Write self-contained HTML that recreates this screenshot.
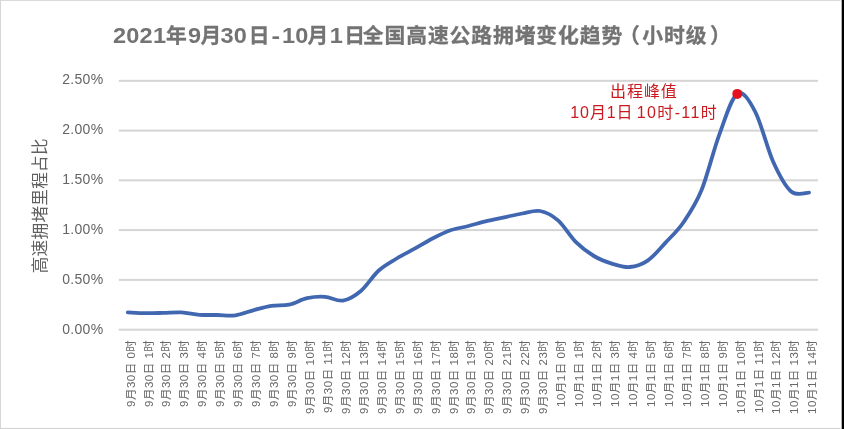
<!DOCTYPE html>
<html lang="zh-CN">
<head>
<meta charset="utf-8">
<title>2021年9月30日-10月1日全国高速公路拥堵变化趋势（小时级）</title>
<style>
html,body{margin:0;padding:0;background:#fff;}
body{width:844px;height:429px;overflow:hidden;position:relative;font-family:"Liberation Sans", "Noto Sans CJK SC", sans-serif;}
svg{display:block;position:absolute;left:0;top:0;}
text{font-family:"Liberation Sans", "Noto Sans CJK SC", sans-serif;}
.ax{fill:#646464;font-size:14px;letter-spacing:0.3px;}
.cat{fill:#686868;font-size:11.5px;letter-spacing:0.5px;}
.title{fill:#737373;font-size:21.6px;font-weight:bold;}
.td{letter-spacing:0.25px;}
.tc{font-size:20.8px;letter-spacing:0.9px;stroke:#737373;stroke-width:0.3px;}
.ytitle{fill:#606060;font-size:16.6px;letter-spacing:0.3px;}
.ann{fill:#ca1a20;font-size:16px;}
</style>
</head>
<body>
<svg width="844" height="429" viewBox="0 0 844 429">
<rect x="0" y="0" width="844" height="429" fill="#ffffff"/>
<rect x="0" y="0" width="840.5" height="1" fill="#dadada"/>
<rect x="0" y="0" width="1" height="429" fill="#d6d6d6"/>
<rect x="0" y="427.9" width="840.5" height="1.1" fill="#d4d4d4"/>
<rect x="841.7" y="0" width="2.3" height="429" fill="#000000"/>
<rect x="118.8" y="79.85" width="699.2" height="2" fill="#d5d5d5"/>
<rect x="118.8" y="129.60" width="699.2" height="2" fill="#d5d5d5"/>
<rect x="118.8" y="179.30" width="699.2" height="2" fill="#d5d5d5"/>
<rect x="118.8" y="229.10" width="699.2" height="2" fill="#d5d5d5"/>
<rect x="118.8" y="278.90" width="699.2" height="2" fill="#d5d5d5"/>
<rect x="118.8" y="328.70" width="699.2" height="2" fill="#d5d5d5"/>
<text class="ax" x="103.4" y="83.6" text-anchor="end">2.50%</text>
<text class="ax" x="103.4" y="133.6" text-anchor="end">2.00%</text>
<text class="ax" x="103.4" y="183.5" text-anchor="end">1.50%</text>
<text class="ax" x="103.4" y="233.5" text-anchor="end">1.00%</text>
<text class="ax" x="103.4" y="283.5" text-anchor="end">0.50%</text>
<text class="ax" x="103.4" y="333.5" text-anchor="end">0.00%</text>
<text class="title" y="42.7"><tspan class="td" y="42.7" x="112.9" textLength="53.46" lengthAdjust="spacingAndGlyphs">2021</tspan><tspan class="tc" x="166.0" y="42.9">年</tspan><tspan class="td" y="42.7" x="187.9" textLength="13.37" lengthAdjust="spacingAndGlyphs">9</tspan><tspan class="tc" x="200.5" y="42.9">月</tspan><tspan class="td" y="42.7" x="220.4" textLength="26.73" lengthAdjust="spacingAndGlyphs">30</tspan><tspan class="tc" x="248.7" y="42.9">日</tspan><tspan class="td" y="42.7" x="271.4" textLength="8.93" lengthAdjust="spacingAndGlyphs">-</tspan><tspan class="td" y="42.7" x="282.0" textLength="26.73" lengthAdjust="spacingAndGlyphs">10</tspan><tspan class="tc" x="307.4" y="42.9">月</tspan><tspan class="td" y="42.7" x="329.7" textLength="13.37" lengthAdjust="spacingAndGlyphs">1</tspan><tspan class="tc" x="344.2" y="42.9">日</tspan><tspan class="tc" x="362.8" y="42.9">全国高速公路拥堵变化趋势</tspan><tspan class="tc" x="619.0" y="42.9">（</tspan><tspan class="tc" x="642.3" y="42.9">小时级</tspan><tspan class="tc" x="710.0" y="42.9">）</tspan></text>
<text class="ytitle" transform="translate(46.4 205.7) rotate(-90)" text-anchor="middle">高速拥堵里程占比</text>
<text class="cat" transform="translate(134.60 339.7) rotate(-90)" text-anchor="end">9月30日 0时</text>
<text class="cat" transform="translate(152.54 339.7) rotate(-90)" text-anchor="end">9月30日 1时</text>
<text class="cat" transform="translate(170.48 339.7) rotate(-90)" text-anchor="end">9月30日 2时</text>
<text class="cat" transform="translate(188.42 339.7) rotate(-90)" text-anchor="end">9月30日 3时</text>
<text class="cat" transform="translate(206.36 339.7) rotate(-90)" text-anchor="end">9月30日 4时</text>
<text class="cat" transform="translate(224.30 339.7) rotate(-90)" text-anchor="end">9月30日 5时</text>
<text class="cat" transform="translate(242.24 339.7) rotate(-90)" text-anchor="end">9月30日 6时</text>
<text class="cat" transform="translate(260.18 339.7) rotate(-90)" text-anchor="end">9月30日 7时</text>
<text class="cat" transform="translate(278.12 339.7) rotate(-90)" text-anchor="end">9月30日 8时</text>
<text class="cat" transform="translate(296.06 339.7) rotate(-90)" text-anchor="end">9月30日 9时</text>
<text class="cat" transform="translate(314.00 339.7) rotate(-90)" text-anchor="end">9月30日 10时</text>
<text class="cat" transform="translate(331.94 339.7) rotate(-90)" text-anchor="end">9月30日 11时</text>
<text class="cat" transform="translate(349.88 339.7) rotate(-90)" text-anchor="end">9月30日 12时</text>
<text class="cat" transform="translate(367.82 339.7) rotate(-90)" text-anchor="end">9月30日 13时</text>
<text class="cat" transform="translate(385.76 339.7) rotate(-90)" text-anchor="end">9月30日 14时</text>
<text class="cat" transform="translate(403.70 339.7) rotate(-90)" text-anchor="end">9月30日 15时</text>
<text class="cat" transform="translate(421.64 339.7) rotate(-90)" text-anchor="end">9月30日 16时</text>
<text class="cat" transform="translate(439.58 339.7) rotate(-90)" text-anchor="end">9月30日 17时</text>
<text class="cat" transform="translate(457.52 339.7) rotate(-90)" text-anchor="end">9月30日 18时</text>
<text class="cat" transform="translate(475.46 339.7) rotate(-90)" text-anchor="end">9月30日 19时</text>
<text class="cat" transform="translate(493.40 339.7) rotate(-90)" text-anchor="end">9月30日 20时</text>
<text class="cat" transform="translate(511.34 339.7) rotate(-90)" text-anchor="end">9月30日 21时</text>
<text class="cat" transform="translate(529.28 339.7) rotate(-90)" text-anchor="end">9月30日 22时</text>
<text class="cat" transform="translate(547.22 339.7) rotate(-90)" text-anchor="end">9月30日 23时</text>
<text class="cat" transform="translate(565.16 339.7) rotate(-90)" text-anchor="end">10月1日 0时</text>
<text class="cat" transform="translate(583.10 339.7) rotate(-90)" text-anchor="end">10月1日 1时</text>
<text class="cat" transform="translate(601.04 339.7) rotate(-90)" text-anchor="end">10月1日 2时</text>
<text class="cat" transform="translate(618.98 339.7) rotate(-90)" text-anchor="end">10月1日 3时</text>
<text class="cat" transform="translate(636.92 339.7) rotate(-90)" text-anchor="end">10月1日 4时</text>
<text class="cat" transform="translate(654.86 339.7) rotate(-90)" text-anchor="end">10月1日 5时</text>
<text class="cat" transform="translate(672.80 339.7) rotate(-90)" text-anchor="end">10月1日 6时</text>
<text class="cat" transform="translate(690.74 339.7) rotate(-90)" text-anchor="end">10月1日 7时</text>
<text class="cat" transform="translate(708.68 339.7) rotate(-90)" text-anchor="end">10月1日 8时</text>
<text class="cat" transform="translate(726.62 339.7) rotate(-90)" text-anchor="end">10月1日 9时</text>
<text class="cat" transform="translate(744.56 339.7) rotate(-90)" text-anchor="end">10月1日 10时</text>
<text class="cat" transform="translate(762.50 339.7) rotate(-90)" text-anchor="end">10月1日 11时</text>
<text class="cat" transform="translate(780.44 339.7) rotate(-90)" text-anchor="end">10月1日 12时</text>
<text class="cat" transform="translate(798.38 339.7) rotate(-90)" text-anchor="end">10月1日 13时</text>
<text class="cat" transform="translate(816.32 339.7) rotate(-90)" text-anchor="end">10月1日 14时</text>
<path d="M127.76 312.40 C130.75 312.53 139.72 313.12 145.69 313.20 C151.67 313.28 157.64 313.03 163.62 312.90 C169.60 312.77 175.57 312.08 181.55 312.40 C187.52 312.72 193.50 314.37 199.48 314.80 C205.45 315.23 211.43 314.92 217.41 315.00 C223.38 315.08 229.36 316.08 235.33 315.30 C241.31 314.52 247.29 311.88 253.26 310.30 C259.24 308.72 265.21 306.75 271.19 305.80 C277.17 304.85 283.14 305.87 289.12 304.60 C295.09 303.33 301.07 299.50 307.05 298.20 C313.02 296.90 319.00 296.40 324.97 296.80 C330.95 297.20 336.93 301.57 342.90 300.60 C348.88 299.63 354.85 296.02 360.83 291.00 C366.81 285.98 372.78 275.92 378.76 270.50 C384.74 265.08 390.71 262.13 396.69 258.50 C402.66 254.87 408.64 252.03 414.62 248.70 C420.59 245.37 426.57 241.57 432.54 238.50 C438.52 235.43 444.50 232.38 450.47 230.30 C456.45 228.22 462.42 227.53 468.40 226.00 C474.38 224.47 480.35 222.55 486.33 221.10 C492.30 219.65 498.28 218.57 504.26 217.30 C510.23 216.03 516.21 214.55 522.18 213.50 C528.16 212.45 534.14 209.85 540.11 211.00 C546.09 212.15 552.06 215.20 558.04 220.40 C564.02 225.60 569.99 236.27 575.97 242.20 C581.95 248.13 587.92 252.43 593.90 256.00 C599.87 259.57 605.85 261.77 611.83 263.60 C617.80 265.43 623.78 267.50 629.75 267.00 C635.73 266.50 641.71 264.67 647.68 260.60 C653.66 256.53 659.63 249.00 665.61 242.60 C671.59 236.20 677.56 230.92 683.54 222.20 C689.51 213.48 695.49 204.95 701.47 190.30 C707.44 175.65 713.42 150.38 719.39 134.30 C725.37 118.22 731.35 97.55 737.32 93.80 C743.30 90.05 749.28 100.47 755.25 111.80 C761.23 123.13 767.20 148.52 773.18 161.80 C779.16 175.08 785.13 186.35 791.11 191.50 C797.08 196.65 806.05 192.50 809.04 192.70" fill="none" stroke="#4167b0" stroke-width="3.8" stroke-linecap="round" stroke-linejoin="round"/>
<circle cx="737.3" cy="93.9" r="5" fill="#e6111e"/>
<text class="ann" x="643.9" y="96.7" text-anchor="middle" letter-spacing="0.9">出程峰值</text>
<text class="ann" y="118"><tspan x="570.3" letter-spacing="0.9">10月1日 </tspan><tspan x="636.8" letter-spacing="1.35">10时-11时</tspan></text>
</svg>
</body>
</html>
